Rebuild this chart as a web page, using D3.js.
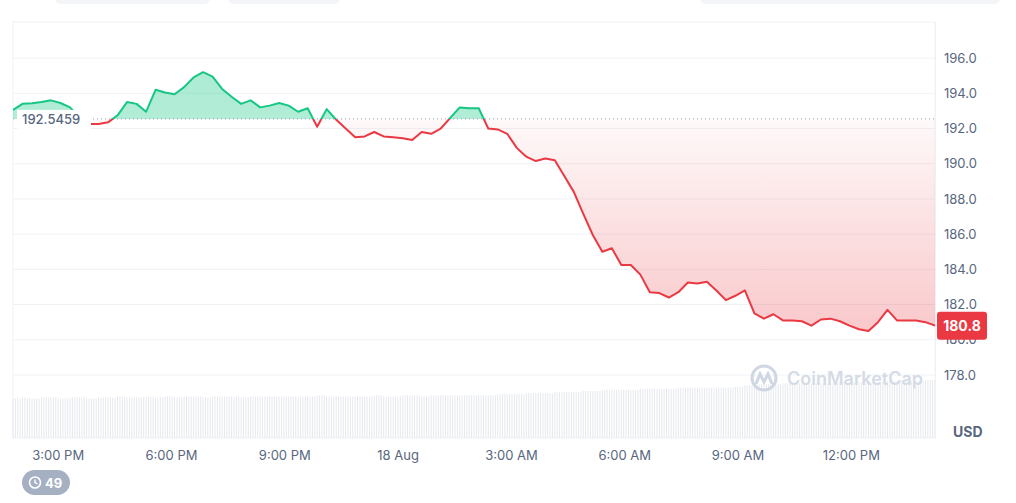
<!DOCTYPE html>
<html>
<head>
<meta charset="utf-8">
<script src="https://cdn.jsdelivr.net/npm/d3@7"></script>
<style>
  body { margin: 0; background: #fff; font-family: Inter, "Noto Sans", sans-serif; }
</style>
</head>
<body>
<div class="canvas"></div>
<script>
// data: 15-minute samples starting 17 Aug 13:49
const startTime = new Date(2023, 7, 17, 13, 49)
const stepMinutes = 15.1
const prices = [
  193.05, 193.4, 193.44, 193.5, 193.6, 193.45, 193.2, 192.6, 192.25, 192.25,
  192.35, 192.75, 193.5, 193.4, 192.95, 194.2, 194.05, 193.95, 194.35, 194.9,
  195.2, 194.95, 194.25, 193.8, 193.4, 193.6, 193.2, 193.3, 193.45, 193.3,
  192.95, 193.15, 192.1, 193.1, 192.5, 192.0, 191.5, 191.55, 191.8, 191.55,
  191.5, 191.45, 191.35, 191.8, 191.7, 192.0, 192.6, 193.2, 193.15, 193.15,
  192.0, 191.95, 191.7, 190.9, 190.4, 190.15, 190.3, 190.2, 189.3, 188.4,
  187.15, 185.95, 185.0, 185.2, 184.25, 184.25, 183.7, 182.7, 182.65, 182.4,
  182.7, 183.25, 183.2, 183.3, 182.8, 182.25, 182.5, 182.8, 181.5, 181.2,
  181.45, 181.1, 181.1, 181.05, 180.8, 181.15, 181.2, 181.05, 180.8, 180.6,
  180.5, 181.0, 181.7, 181.1, 181.1, 181.1, 181.0, 180.8
]
const volumes = [
  3.6, 3.7, 3.6, 3.7, 3.7, 3.6, 3.7, 3.7, 3.6, 3.7,
  3.7, 3.8, 3.7, 3.7, 3.8, 3.7, 3.8, 3.7, 3.8, 3.8,
  3.7, 3.8, 3.8, 3.8, 3.7, 3.8, 3.8, 3.8, 3.8, 3.8,
  3.8, 3.8, 3.9, 3.8, 3.8, 3.8, 3.8, 3.8, 3.9, 3.8,
  3.8, 3.9, 3.9, 3.8, 3.9, 3.9, 3.9, 3.9, 3.9, 3.9,
  3.9, 4.0, 4.0, 4.0, 4.1, 4.1, 4.1, 4.2, 4.2, 4.2,
  4.3, 4.3, 4.4, 4.4, 4.4, 4.4, 4.5, 4.5, 4.5, 4.5,
  4.6, 4.6, 4.6, 4.6, 4.6, 4.6, 4.7, 4.8, 4.9, 4.9,
  4.9, 5.0, 5.0, 5.0, 5.0, 5.0, 5.0, 5.1, 5.1, 5.1,
  5.1, 5.1, 5.2, 5.2, 5.2, 5.2, 5.3, 5.3
]
const openPrice = 192.5459
const lastLabel = '180.8'
const yTicks = [178, 180, 182, 184, 186, 188, 190, 192, 194, 196]
const xTickTimes = [
  new Date(2023, 7, 17, 15), new Date(2023, 7, 17, 18), new Date(2023, 7, 17, 21),
  new Date(2023, 7, 18, 0), new Date(2023, 7, 18, 3), new Date(2023, 7, 18, 6),
  new Date(2023, 7, 18, 9), new Date(2023, 7, 18, 12)
]
const xTickLabels = ['3:00 PM', '6:00 PM', '9:00 PM', '18 Aug', '3:00 AM', '6:00 AM', '9:00 AM', '12:00 PM']

const data = prices.map((p, i) => ({
  t: new Date(startTime.getTime() + i * stepMinutes * 60000),
  price: p,
  vol: volumes[i]
}))

const width = 1016, height = 503
const margin = { top: 22, right: 81, bottom: 65, left: 13 }
const graphWidth = width - margin.left - margin.right
const graphHeight = height - margin.top - margin.bottom

const svg = d3.select('.canvas').append('svg')
  .attr('width', width).attr('height', height)

const defs = svg.append('defs')

// faint header boxes
svg.append('rect').attr('x', 55).attr('y', -6).attr('width', 155).attr('height', 10).attr('rx', 5).attr('fill', '#f3f5f8')
svg.append('rect').attr('x', 228).attr('y', -6).attr('width', 112).attr('height', 10).attr('rx', 5).attr('fill', '#f3f5f8')
svg.append('rect').attr('x', 700).attr('y', -6).attr('width', 300).attr('height', 10).attr('rx', 5).attr('fill', '#f3f5f8')

const graph = svg.append('g').attr('transform', `translate(${margin.left}, ${margin.top})`)

const x = d3.scaleTime()
  .domain([startTime, new Date(startTime.getTime() + (prices.length - 1) * stepMinutes * 60000)])
  .range([0, graphWidth])
const y = d3.scaleLinear().domain([174.42, 198.05]).range([graphHeight, 0])
const yVol = d3.scaleLinear().domain([0, 5.3]).range([graphHeight, graphHeight - 58])

// frame
graph.append('rect').attr('width', graphWidth).attr('height', graphHeight)
  .attr('fill', 'none').attr('stroke', '#eff2f5')

// grid
graph.append('g').selectAll('line').data(yTicks).enter().append('line')
  .attr('x1', 0).attr('x2', graphWidth)
  .attr('y1', d => y(d)).attr('y2', d => y(d))
  .attr('stroke', '#eff2f5')

// volume hairlines
const volBars = []
data.forEach((d, i) => {
  if (i < data.length - 1) {
    for (let k = 0; k < 4; k++) {
      volBars.push({ t: new Date(d.t.getTime() + k * stepMinutes * 15000), vol: d.vol })
    }
  } else volBars.push(d)
})
graph.append('g').selectAll('line').data(volBars).enter().append('line')
  .attr('x1', d => x(d.t)).attr('x2', d => x(d.t))
  .attr('y1', graphHeight).attr('y2', d => yVol(d.vol))
  .attr('stroke', '#e6e9ee').attr('stroke-width', 1)

// watermark
const wm = graph.append('g').attr('transform', `translate(${750 - margin.left}, ${378 - margin.top})`)
wm.append('circle').attr('cx', 14).attr('cy', 0).attr('r', 12)
  .attr('fill', 'none').attr('stroke', '#cfd6e4').attr('stroke-width', 3)
wm.append('path').attr('d', 'M6,6 L10,-4 L14,4 L18,-4 L22,6')
  .attr('fill', 'none').attr('stroke', '#cfd6e4').attr('stroke-width', 3)
wm.append('text').attr('x', 37).attr('y', 7).text('CoinMarketCap')
  .attr('fill', '#d5dbe6').attr('font-size', 18).attr('font-weight', 600)

// gradients
const gGreen = defs.append('linearGradient').attr('id', 'gGreen').attr('x1', 0).attr('x2', 0).attr('y1', 0).attr('y2', 1)
gGreen.append('stop').attr('offset', '0%').attr('stop-color', '#16c784').attr('stop-opacity', 0.35)
gGreen.append('stop').attr('offset', '100%').attr('stop-color', '#16c784').attr('stop-opacity', 0.25)
const gRed = defs.append('linearGradient').attr('id', 'gRed').attr('gradientUnits', 'userSpaceOnUse')
  .attr('x1', 0).attr('x2', 0).attr('y1', y(openPrice)).attr('y2', y(180.3))
gRed.append('stop').attr('offset', '0%').attr('stop-color', '#ea3943').attr('stop-opacity', 0.03)
gRed.append('stop').attr('offset', '100%').attr('stop-color', '#ea3943').attr('stop-opacity', 0.28)

const by = y(openPrice)
defs.append('clipPath').attr('id', 'above').append('rect')
  .attr('x', 0).attr('y', 0).attr('width', graphWidth).attr('height', by)
defs.append('clipPath').attr('id', 'below').append('rect')
  .attr('x', 0).attr('y', by).attr('width', graphWidth).attr('height', graphHeight - by)

const area = d3.area().x(d => x(d.t)).y0(by).y1(d => y(d.price))
const line = d3.line().x(d => x(d.t)).y(d => y(d.price))

graph.append('path').datum(data).attr('d', area).attr('fill', 'url(#gGreen)').attr('clip-path', 'url(#above)')
graph.append('path').datum(data).attr('d', area).attr('fill', 'url(#gRed)').attr('clip-path', 'url(#below)')

// baseline
graph.append('line').attr('x1', 0).attr('x2', graphWidth).attr('y1', by).attr('y2', by)
  .attr('stroke', '#a6b0c3').attr('stroke-width', 1.2).attr('stroke-dasharray', '1,3')

graph.append('path').datum(data).attr('d', line).attr('fill', 'none')
  .attr('stroke', '#16c784').attr('stroke-width', 2).attr('stroke-linejoin', 'round').attr('clip-path', 'url(#above)')
graph.append('path').datum(data).attr('d', line).attr('fill', 'none')
  .attr('stroke', '#ea3943').attr('stroke-width', 2).attr('stroke-linejoin', 'round').attr('clip-path', 'url(#below)')

// open price label
graph.append('rect').attr('x', 4).attr('y', by - 9).attr('width', 74).attr('height', 19).attr('fill', '#fff')
graph.append('text').attr('x', 9).attr('y', by + 5).text(openPrice.toFixed(4))
  .attr('fill', '#58667e').attr('font-size', 13).attr('font-weight', 500)

// y axis labels
const yAxis = graph.append('g').attr('transform', `translate(${graphWidth}, 0)`)
  .call(d3.axisRight(y).tickValues(yTicks).tickSize(0).tickPadding(9).tickFormat(d3.format('.1f')))
yAxis.select('.domain').attr('stroke', '#eff2f5')
yAxis.selectAll('text').attr('fill', '#58667e').attr('font-size', 13).attr('font-family', 'Inter, sans-serif')

// last price tag
const ly = y(prices[prices.length - 1])
graph.append('rect').attr('x', graphWidth + 2).attr('y', ly - 14).attr('width', 50).attr('height', 28)
  .attr('rx', 3).attr('fill', '#ea3943')
graph.append('text').attr('x', graphWidth + 27).attr('y', ly + 5).attr('text-anchor', 'middle')
  .text(lastLabel).attr('fill', '#fff').attr('font-size', 14).attr('font-weight', 700)

graph.append('text').attr('x', graphWidth + 18).attr('y', graphHeight - 1).text('USD')
  .attr('fill', '#58667e').attr('font-size', 14).attr('font-weight', 700)

// x axis
const xAxis = graph.append('g').attr('transform', `translate(0, ${graphHeight})`)
  .call(d3.axisBottom(x).tickValues(xTickTimes).tickSize(0).tickPadding(13)
    .tickFormat((d, i) => xTickLabels[i]))
xAxis.select('.domain').remove()
xAxis.selectAll('text').attr('fill', '#58667e').attr('font-size', 13).attr('font-family', 'Inter, sans-serif')

// bottom badge
const badge = svg.append('g').attr('transform', 'translate(22, 470)')
badge.append('rect').attr('width', 48).attr('height', 25).attr('rx', 12.5).attr('fill', '#a6b0c3')
badge.append('circle').attr('cx', 13).attr('cy', 12.5).attr('r', 5.5).attr('fill', 'none').attr('stroke', '#fff').attr('stroke-width', 1.6)
badge.append('path').attr('d', 'M13,9.5 L13,12.5 L15.5,14').attr('fill', 'none').attr('stroke', '#fff').attr('stroke-width', 1.4)
badge.append('text').attr('x', 23).attr('y', 17.5).text('49').attr('fill', '#fff').attr('font-size', 13).attr('font-weight', 700)
</script>
</body>
</html>
